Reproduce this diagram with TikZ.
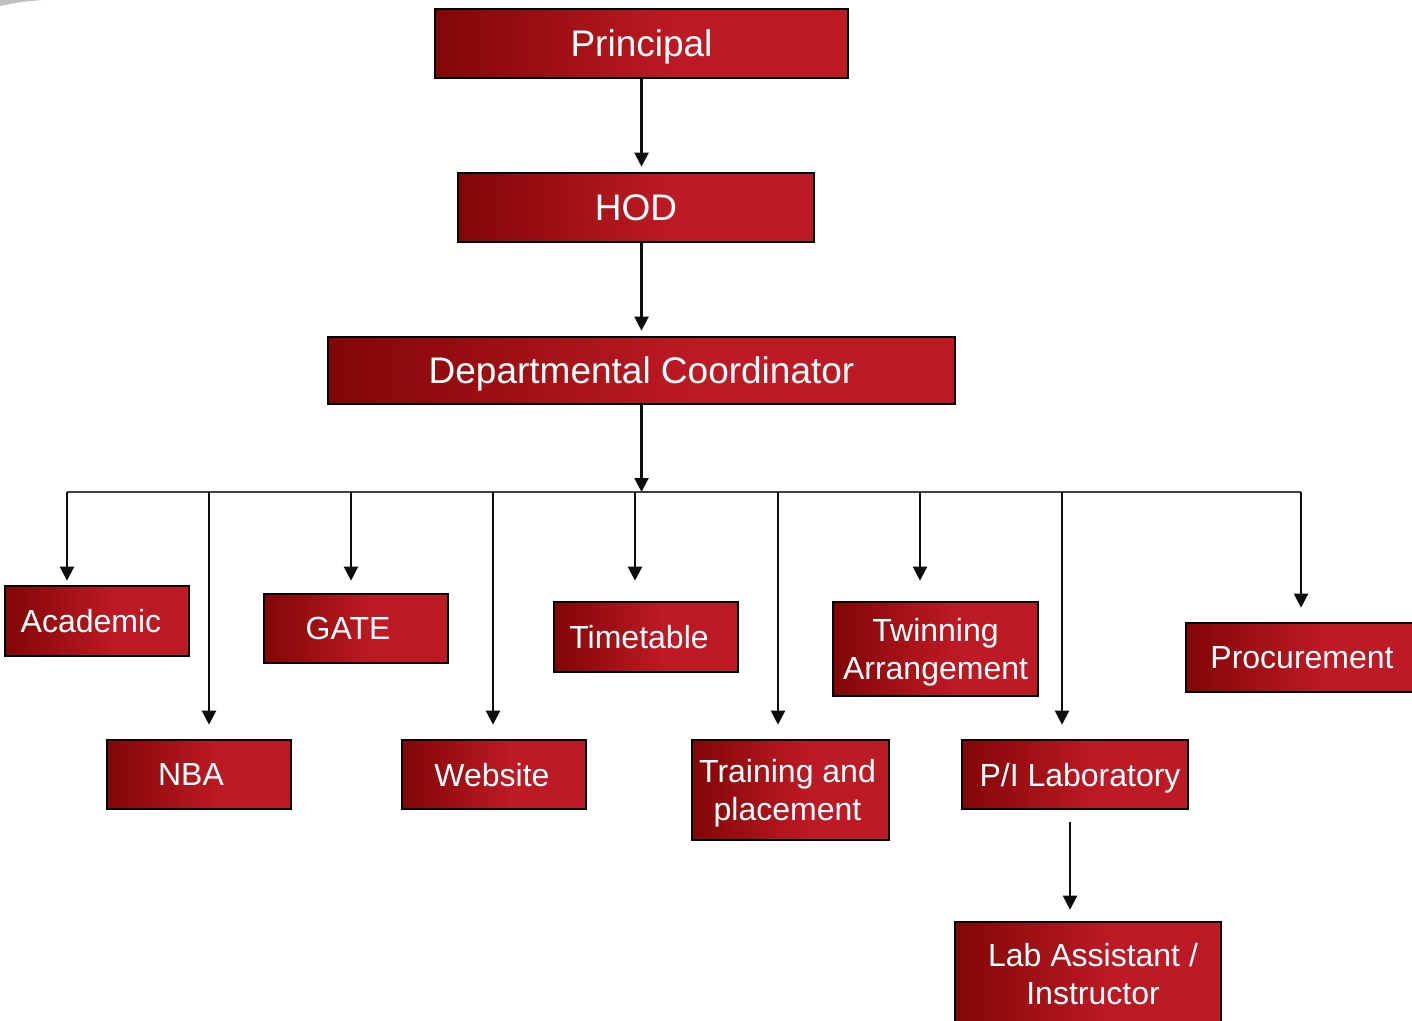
\documentclass[tikz,border=0pt]{standalone}
\usepackage{fontspec}
\setmainfont{Liberation Sans}
\usetikzlibrary{arrows.meta}
\definecolor{dkred}{HTML}{820606}
\definecolor{brred}{HTML}{BE1A25}
\pgfdeclarehorizontalshading{redgrad}{100bp}{color(0bp)=(dkred); color(25bp)=(dkred); color(55bp)=(brred); color(100bp)=(brred)}
\tikzset{
  box/.style={draw=black, line width=1.3pt, shading=redgrad, text=white, inner sep=0pt, align=center, text depth=0pt},
  bigbox/.style={box, font=\fontsize{18.5}{22}\selectfont},
  smallbox/.style={box, font=\fontsize{16}{19}\selectfont},
  arr/.style={draw=black!95, line width=1.1pt, -{Triangle[width=7pt,length=7pt]}},
  bus/.style={draw=black!75, line width=0.8pt}
}
\begin{document}
\begin{tikzpicture}[x=0.5pt,y=-0.5pt]
\useasboundingbox (0,0) rectangle (1412,1021);
\clip (0,0) rectangle (1412,1021);
\fill[gray!50] (0,0) -- (42,0) .. controls (20,2) .. (0,6) -- cycle;

\node[bigbox, minimum width=206.5pt, minimum height=34.5pt] (prin) at (641.5,43.5) {Principal};
\node[bigbox, minimum width=178pt, minimum height=34.5pt] (hod) at (636,207.5) {HOD};
\node[bigbox, minimum width=313.5pt, minimum height=33.5pt] (dc) at (641.5,370.5) {Departmental Coordinator};

\node[smallbox, minimum width=92pt, minimum height=35pt] (acad) at (97,621) {\hspace*{-6pt}Academic};
\node[smallbox, minimum width=92pt, minimum height=34.5pt] (nba) at (199,774.5) {\hspace*{-8pt}NBA};
\node[smallbox, minimum width=92pt, minimum height=34.5pt] (gate) at (356,628.5) {\hspace*{-8pt}GATE};
\node[smallbox, minimum width=92pt, minimum height=34.5pt] (web) at (494,774.5) {\hspace*{-2pt}Website};
\node[smallbox, minimum width=92pt, minimum height=35pt] (tt) at (646,637) {\hspace*{-7pt}Timetable};
\node[smallbox, minimum width=98.5pt, minimum height=50pt] (train) at (790.5,790) {\hspace*{-3pt}Training and\\\hspace*{-3pt}placement};
\node[smallbox, minimum width=102.5pt, minimum height=47pt] (twin) at (935.5,649) {Twinning\\Arrangement};
\node[smallbox, minimum width=113pt, minimum height=34.5pt] (pil) at (1075,774.5) {\hspace*{5pt}P/I Laboratory};
\node[smallbox, minimum width=116pt, minimum height=34.5pt] (proc) at (1302,657.5) {Procurement};
\node[smallbox, minimum width=133pt, minimum height=52pt] (lab) at (1088,974) {\hspace*{5pt}Lab Assistant /\\\hspace*{5pt}Instructor};

\coordinate (busL) at (67,492);
\coordinate (busR) at (1301,492);
\coordinate (busC) at (641.5,492);
\coordinate (bNBA) at (209,492);
\coordinate (bGATE) at (351,492);
\coordinate (bWEB) at (493,492);
\coordinate (bTT) at (635,492);
\coordinate (bTR) at (778,492);
\coordinate (bTW) at (920,492);
\coordinate (bPI) at (1062,492);
\coordinate (pilOut) at (1070,822);

\draw[arr, shorten >=2.5pt] (prin.south) -- (prin.south |- hod.north);
\draw[arr, shorten >=2.5pt] (dc.north |- hod.south) -- (dc.north);
\draw[arr] (dc.south) -- (busC);
\draw[bus] (busL) -- (busR);

\draw[arr, shorten >=2pt] (busL) -- (busL |- acad.north);
\draw[arr, shorten >=7pt] (bNBA) -- (bNBA |- nba.north);
\draw[arr, shorten >=6pt] (bGATE) -- (bGATE |- gate.north);
\draw[arr, shorten >=7pt] (bWEB) -- (bWEB |- web.north);
\draw[arr, shorten >=10pt] (bTT) -- (bTT |- tt.north);
\draw[arr, shorten >=7pt] (bTR) -- (bTR |- train.north);
\draw[arr, shorten >=10pt] (bTW) -- (bTW |- twin.north);
\draw[arr, shorten >=7pt] (bPI) -- (bPI |- pil.north);
\draw[arr, shorten >=7pt] (busR) -- (busR |- proc.north);
\draw[arr, shorten >=5.5pt] (pilOut) -- (pilOut |- lab.north);
\end{tikzpicture}
\end{document}
